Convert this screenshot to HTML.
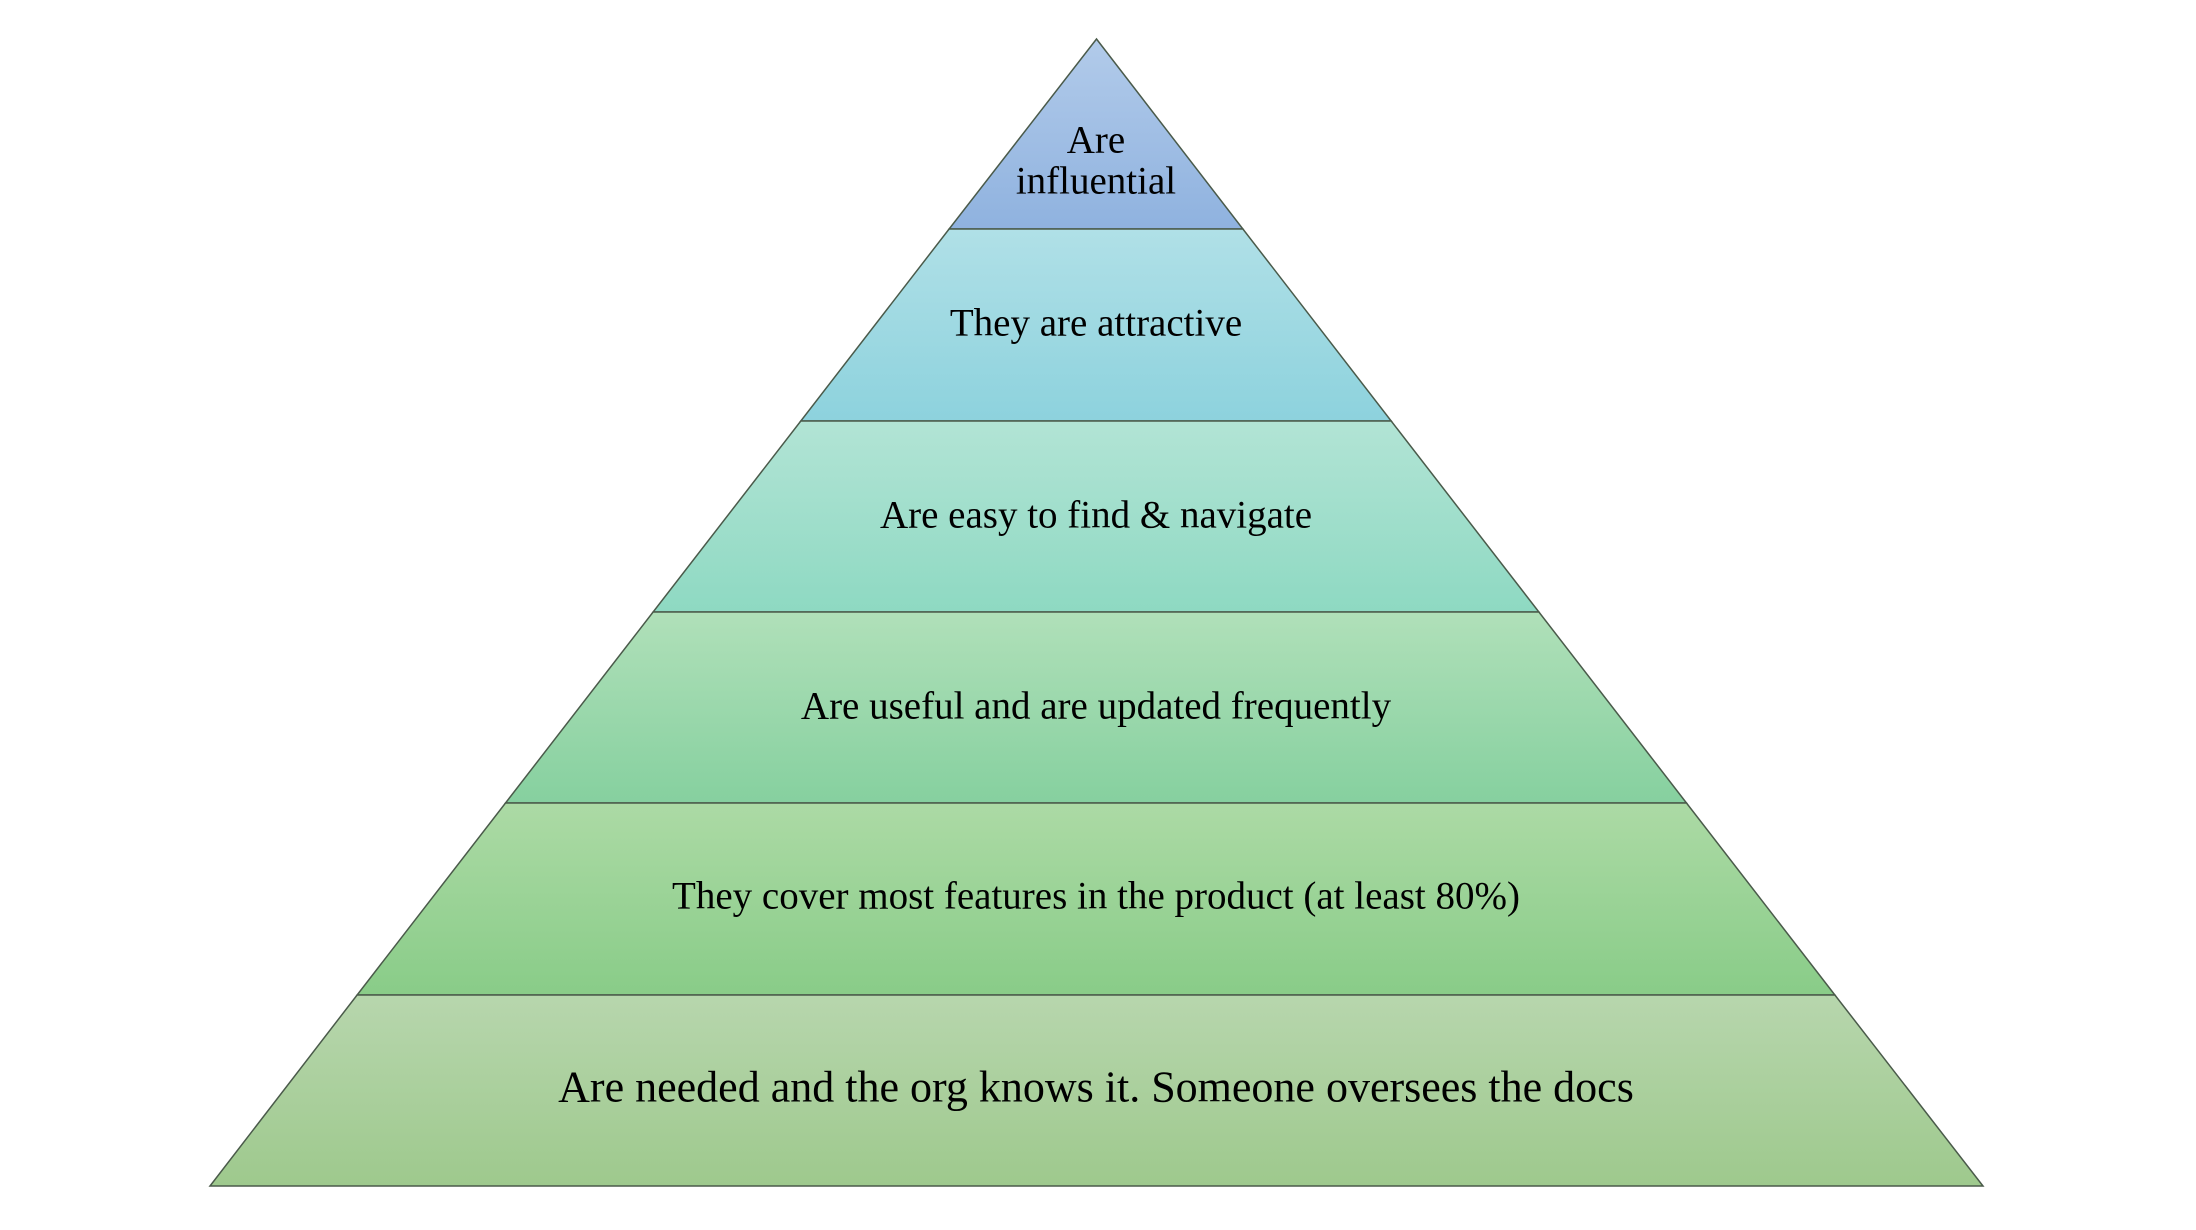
<!DOCTYPE html>
<html><head><style>html,body{margin:0;padding:0;background:#fff;}svg{display:block}</style></head>
<body>
<svg width="2196" height="1230" viewBox="0 0 2196 1230" xmlns="http://www.w3.org/2000/svg">
<defs>
<linearGradient id="g1" x1="0" y1="0" x2="0" y2="1"><stop offset="0" stop-color="#b2cbea"/><stop offset="1" stop-color="#8fb2df"/></linearGradient>
<linearGradient id="g2" x1="0" y1="0" x2="0" y2="1"><stop offset="0" stop-color="#b0e0e7"/><stop offset="1" stop-color="#8dd2dd"/></linearGradient>
<linearGradient id="g3" x1="0" y1="0" x2="0" y2="1"><stop offset="0" stop-color="#b2e4d5"/><stop offset="1" stop-color="#8ed9c2"/></linearGradient>
<linearGradient id="g4" x1="0" y1="0" x2="0" y2="1"><stop offset="0" stop-color="#b0e0b9"/><stop offset="1" stop-color="#86d09f"/></linearGradient>
<linearGradient id="g5" x1="0" y1="0" x2="0" y2="1"><stop offset="0" stop-color="#acdaa5"/><stop offset="1" stop-color="#89cc88"/></linearGradient>
<linearGradient id="g6" x1="0" y1="0" x2="0" y2="1"><stop offset="0" stop-color="#b7d6ad"/><stop offset="1" stop-color="#9ec98d"/></linearGradient>
</defs>
<g stroke="#4a5a4a" stroke-width="1.5">
<polygon points="1096.5,39 1242.9,229 949.1,229" fill="url(#g1)"/>
<polygon points="949.1,229 1242.9,229 1391.2,421 800.8,421" fill="url(#g2)"/>
<polygon points="800.8,421 1391.2,421 1538.9,612 653.1,612" fill="url(#g3)"/>
<polygon points="653.1,612 1538.9,612 1686.5,803 505.5,803" fill="url(#g4)"/>
<polygon points="505.5,803 1686.5,803 1834.9,995 357.1,995" fill="url(#g5)"/>
<polygon points="357.1,995 1834.9,995 1983,1186 210,1186" fill="url(#g6)"/>
</g>
<g font-family="'Liberation Serif', serif" font-size="39" fill="#000" text-anchor="middle" dominant-baseline="central">
<text x="1096" y="140">Are</text>
<text x="1096" y="181">influential</text>
<text x="1096" y="323">They are attractive</text>
<text x="1096" y="515">Are easy to find &amp; navigate</text>
<text x="1096" y="706">Are useful and are updated frequently</text>
<text x="1096" y="896">They cover most features in the product (at least 80%)</text>
<text x="1096" y="1087" font-size="44">Are needed and the org knows it. Someone oversees the docs</text>
</g>
</svg>
</body></html>
